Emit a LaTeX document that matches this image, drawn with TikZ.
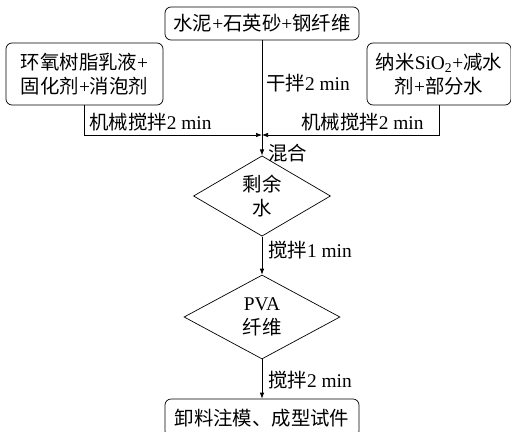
\documentclass[tikz,border=0pt]{standalone}
\usepackage{fontspec}
\setmainfont{Liberation Serif}
\newfontfamily\cjk{Noto Sans CJK SC}
\usetikzlibrary{shapes.geometric,arrows.meta}
\newcommand\zh[1]{{\cjk #1}}
\begin{document}
\begin{tikzpicture}[x=1pt,y=-1pt, font=\fontsize{19.4}{23.5}\selectfont,
 box/.style={draw, rounded corners=6pt, line width=0.7pt, inner sep=0pt, align=center},
 dia/.style={draw, diamond, line width=0.7pt, inner sep=0pt, align=center},
 ln/.style={line width=0.7pt},
 arr/.style={ln, -{Latex[length=6pt,width=4.5pt]}},
 lab/.style={anchor=west, inner sep=0pt}]
\useasboundingbox (0,0) rectangle (511,431);
\clip (0,0) rectangle (511,431);
\node[box, minimum width=194pt, minimum height=33pt] (top) at (262,23.5) {\zh{水泥}+\zh{石英砂}+\zh{钢纤维}};
\node[box, minimum width=157pt, minimum height=62pt] (left) at (84.5,74) {\zh{环氧树脂乳液}+\\\zh{固化剂}+\zh{消泡剂}};
\node[box, minimum width=144pt, minimum height=62pt] (right) at (439,74) {\zh{纳米}SiO\textsubscript{2}+\zh{减水}\\\zh{剂}+\zh{部分水}};
\coordinate (j) at (262,135);
\node[dia, minimum width=137pt, minimum height=62pt] (d1) at (262,196) {\zh{剩余}\\\zh{水}};
\node[dia, minimum width=156pt, minimum height=84pt] (d2) at (262,317) {PVA\\\zh{纤维}};
\node[box, minimum width=194pt, minimum height=38pt] (bot) at (262,418) {\zh{卸料注模、成型试件}};
\draw[ln] (top.south) -- (j);
\draw[arr] (left.south) |- (j);
\draw[arr] (right.south) |- (j);
\draw[arr] (j) -- (d1.north);
\draw[arr] (d1.south) -- (d2.north);
\draw[arr] (d2.south) -- (bot.north);
\node[lab] (l1) at (266,83) {\zh{干拌}2 min};
\node[lab] (l2) at (89,122) {\zh{机械搅拌}2 min};
\node[lab] (l3) at (301,122) {\zh{机械搅拌}2 min};
\node[lab] (l4) at (268,153) {\zh{混合}};
\node[lab] (l5) at (268,250) {\zh{搅拌}1 min};
\node[lab] (l6) at (268,380) {\zh{搅拌}2 min};
\end{tikzpicture}
\end{document}
